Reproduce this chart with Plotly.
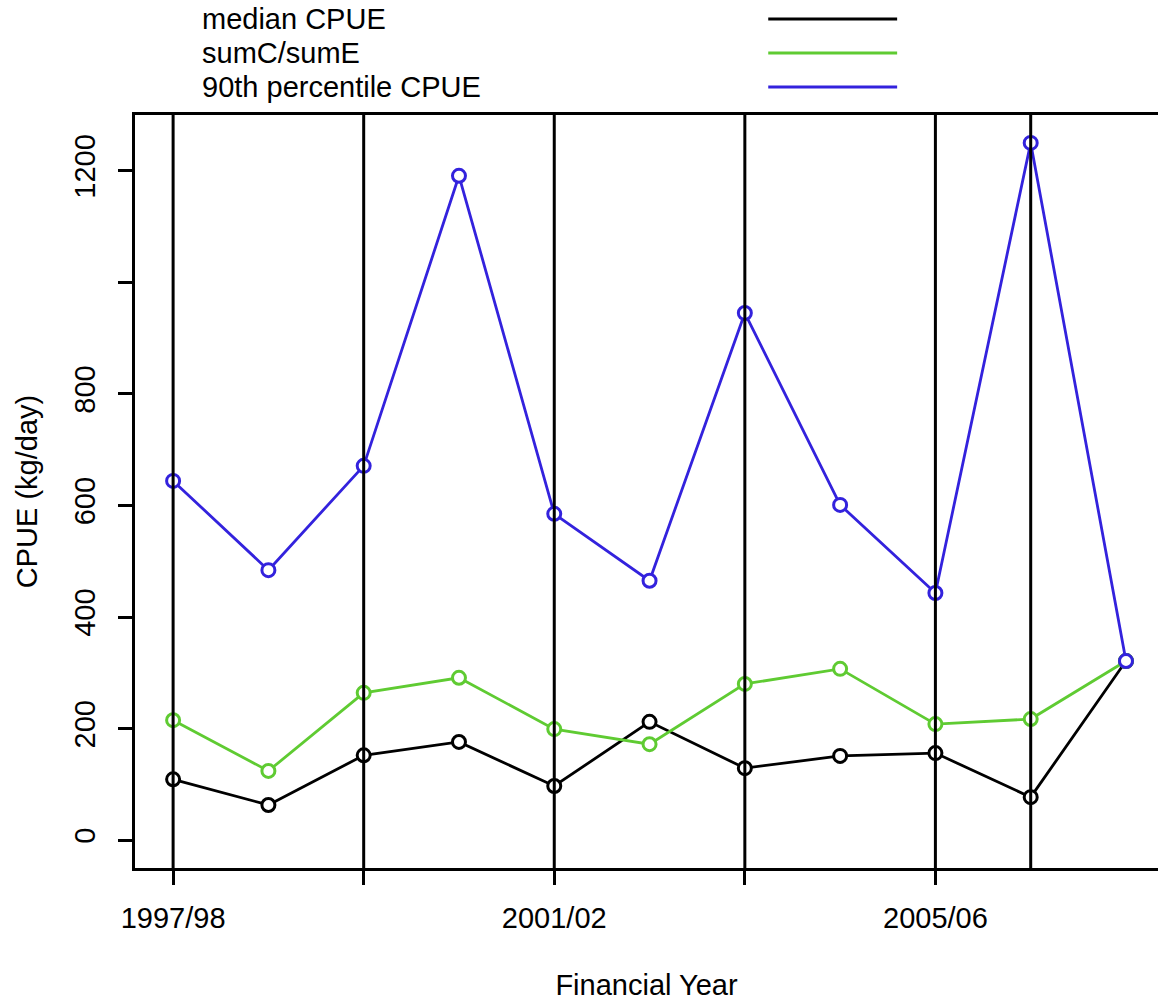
import plotly.graph_objects as go

years = [1997, 1998, 1999, 2000, 2001, 2002, 2003, 2004, 2005, 2006, 2007]
median_cpue = [109, 63, 152, 176, 97, 212, 129, 151, 156, 77, 321]
sumc_sume = [215, 124, 264, 291, 199, 172, 280, 307, 208, 217, 321]
p90_cpue = [644, 484, 671, 1191, 585, 465, 945, 601, 443, 1250, 321]

series_names = ["median CPUE", "sumC/sumE", "90th percentile CPUE"]
series_colors = ["#000000", "#5FCB32", "#3322DD"]

x_tickvals = [1997, 1999, 2001, 2003, 2005]
x_ticktext = ["1997/98", "", "2001/02", "", "2005/06"]
y_tickvals = [0, 200, 400, 600, 800, 1000, 1200]
y_ticktext = ["0", "200", "400", "600", "800", "", "1200"]
vlines = [1997, 1999, 2001, 2003, 2005, 2006]

FONT = "Liberation Sans, Arial, Helvetica, sans-serif"
FS = 29

fig = go.Figure()
for name, vals, col in zip(series_names, [median_cpue, sumc_sume, p90_cpue], series_colors):
    fig.add_trace(go.Scatter(
        x=years, y=vals, mode="lines+markers", name=name,
        line=dict(color=col, width=2.8),
        marker=dict(symbol="circle", size=13, color="white", line=dict(color=col, width=3)),
        showlegend=False, cliponaxis=False,
    ))

for v in vlines:
    fig.add_shape(type="line", xref="x", yref="paper", x0=v, x1=v, y0=0, y1=1,
                  line=dict(color="black", width=3), layer="above")

# legend (text on left, line sample on right)
leg_y = [1.1275, 1.0823, 1.0372]
for name, col, yy in zip(series_names, series_colors, leg_y):
    fig.add_annotation(xref="paper", yref="paper", x=0.0635, y=yy, text=name,
                       showarrow=False, xanchor="left", yanchor="middle",
                       font=dict(family=FONT, size=FS, color="black"))
    fig.add_shape(type="line", xref="paper", yref="paper", x0=0.619, x1=0.745, y0=yy, y1=yy,
                  line=dict(color=col, width=3))

fig.update_layout(
    width=1158, height=1001,
    margin=dict(l=135, r=0, t=115, b=133, autoexpand=False),
    paper_bgcolor="white", plot_bgcolor="white",
    font=dict(family=FONT, size=FS, color="black"),
    xaxis=dict(
        range=[1996.6, 2007.336], tickmode="array", tickvals=x_tickvals, ticktext=x_ticktext,
        showgrid=False, zeroline=False, showline=True, mirror=True, linecolor="black", linewidth=3,
        ticks="outside", ticklen=14, tickwidth=3, tickcolor="black", ticklabelstandoff=8,
        automargin=False,
        title=dict(text="Financial Year", standoff=42, font=dict(size=FS)),
    ),
    yaxis=dict(
        range=[-50, 1300], tickmode="array", tickvals=y_tickvals, ticktext=y_ticktext,
        tickangle=-90, automargin=False,
        showgrid=False, zeroline=False, showline=True, mirror=False, linecolor="black", linewidth=3,
        ticks="outside", ticklen=14, tickwidth=3, tickcolor="black", ticklabelstandoff=11,
        title=dict(text="CPUE (kg/day)", standoff=24, font=dict(size=FS)),
    ),
)

fig.write_html("out.html", config={"displayModeBar": False},
               post_script="document.body.style.margin='0';document.body.style.overflow='hidden';")
